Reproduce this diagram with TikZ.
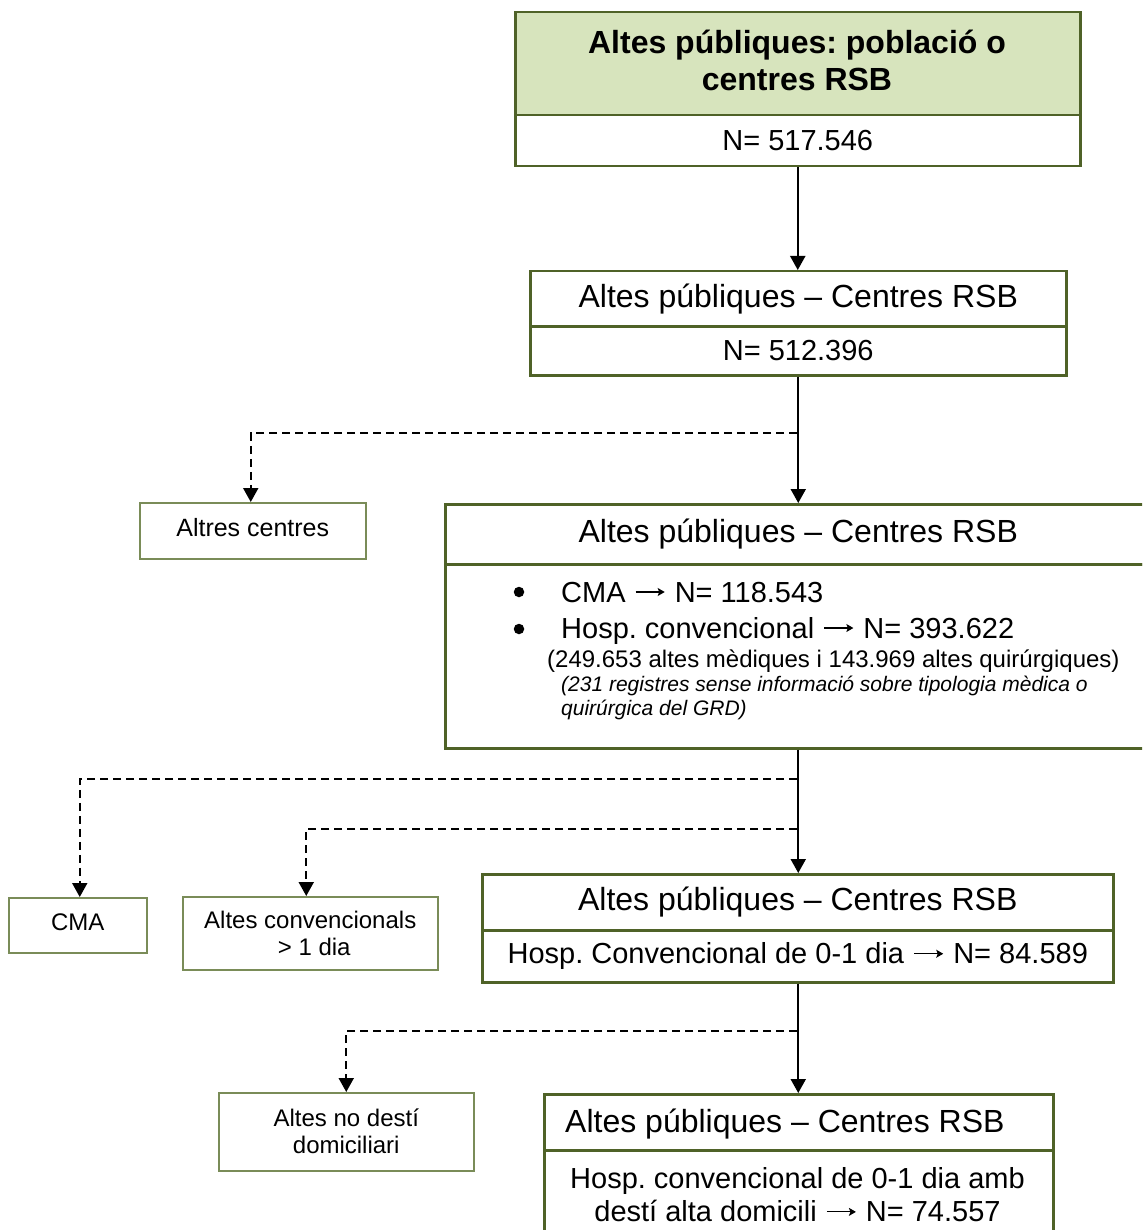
\documentclass[tikz,border=0pt]{standalone}
\usepackage{fontspec}
\setmainfont{Liberation Sans}
\usetikzlibrary{arrows.meta}
\definecolor{oliveb}{HTML}{4F6228}
\definecolor{olives}{HTML}{7A8C58}
\definecolor{lgreen}{HTML}{D7E4BD}
\newcommand{\fsz}[2]{\fontsize{#1}{#2}\selectfont}
\newcommand{\arrw}{\tikz[baseline=0pt]{\path (0pt,0pt) (33pt,0pt); \draw[line width=1.2pt,-{Stealth[length=7pt,width=8pt,inset=1.5pt]}] (2pt,10pt) -- (31pt,10pt);}}
\frenchspacing
\begin{document}
\begin{tikzpicture}[x=1pt,y=-1pt,
  bigbox/.style={draw=oliveb, line width=2.5pt, inner sep=0pt, anchor=north west, align=center},
  smallbox/.style={draw=olives, line width=1.5pt, inner sep=0pt, anchor=north west, align=center, font=\fsz{24}{27}},
  arr/.style={line width=2pt, -{Triangle[length=14pt,width=15pt]}},
  dsh/.style={arr, dash pattern=on 8pt off 5pt},
  txt/.style={inner sep=0pt, anchor=base west},
  bul/.style={circle, fill=black, inner sep=0pt, minimum size=10.5pt}]
\useasboundingbox (0,0) rectangle (1142,1230);
\clip (0,0) rectangle (1142,1230);

% Box 1
\node[bigbox, fill=lgreen, minimum width=565pt, minimum height=103pt] (b1t) at (514,11) {};
\node[inner sep=0pt, align=center, font=\bfseries\fsz{32}{37}] (b1tl) at (797,60) {Altes públiques: població o\\centres RSB};
\node[bigbox, minimum width=565pt, minimum height=51pt, font=\fsz{29}{33}] (b1b) at (514,114) {\raisebox{-2pt}{N= 517.546}};

% Box 2
\node[bigbox, minimum width=536pt, minimum height=55pt, font=\fsz{32}{37}] (b2t) at (529,270) {\raisebox{-2pt}{Altes públiques – Centres RSB}};
\node[bigbox, minimum width=536pt, minimum height=49pt, font=\fsz{29}{33}] (b2b) at (529,325) {\raisebox{-2pt}{N= 512.396}};

% Box 3
\node[bigbox, minimum width=706pt, minimum height=60pt, font=\fsz{32}{37}] (b3t) at (444,503) {Altes públiques – Centres RSB};
\node[bigbox, minimum width=706pt, minimum height=184pt] (b3b) at (444,563) {};
\node[bul] (bul1) at (519,592) {};
\node[bul] (bul2) at (519,629) {};
\node[txt, font=\fsz{29}{33}] (it1) at (561,602) {CMA \arrw{} N= 118.543};
\node[txt, font=\fsz{29}{33}] (it2) at (561,638) {Hosp. convencional \arrw{} N= 393.622};
\node[txt, font=\fsz{24}{28}] (it3) at (547,667) {(249.653 altes mèdiques i 143.969 altes quirúrgiques)};
\node[txt, font=\itshape\fsz{21}{24}] (it4) at (561,691) {(231 registres sense informació sobre tipologia mèdica o};
\node[txt, font=\itshape\fsz{21}{24}] (it5) at (561,715) {quirúrgica del GRD)};

% Box 4
\node[bigbox, minimum width=631pt, minimum height=56pt, font=\fsz{32}{37}] (b4t) at (481,873) {\raisebox{-2pt}{Altes públiques – Centres RSB}};
\node[bigbox, minimum width=631pt, minimum height=52pt, font=\fsz{29}{33}] (b4b) at (481,929) {\raisebox{-2pt}{Hosp. Convencional de 0-1 dia \arrw{} N= 84.589}};

% Box 5
\node[bigbox, minimum width=509pt, minimum height=56pt] (b5t) at (543,1093) {};
\node[txt, anchor=west, font=\fsz{32}{37}] (b5tl) at (565,1124) {Altes públiques – Centres RSB};
\node[bigbox, minimum width=509pt, minimum height=100pt] (b5b) at (543,1149) {};
\node[inner sep=0pt, align=center, font=\fsz{29}{33}] (b5bl) at (797.5,1195) {Hosp. convencional de 0-1 dia amb\\destí alta domicili \arrw{} N= 74.557};

% Side boxes
\node[smallbox, minimum width=226pt, minimum height=56pt, font=\fsz{25}{28}] (altres) at (139,502) {Altres centres\strut};
\node[smallbox, minimum width=138pt, minimum height=55pt] (cma) at (8,897) {CMA\strut};
\node[smallbox, minimum width=255pt, minimum height=73pt] (conv) at (182,896) {Altes convencionals\\\,\,> 1 dia};
\node[smallbox, minimum width=255pt, minimum height=78pt] (nodest) at (218,1092) {Altes no destí\\domiciliari};

% Connectors
\draw[arr] (b1b.south) -- (b1b.south |- b2t.north);
\draw[arr] (b2b.south) -- (b2b.south |- b3t.north);
\draw[arr] (b3b.south -| b2b.south) -- (b2b.south |- b4t.north);
\draw[arr] (b4b.south -| b2b.south) -- (b2b.south |- b5t.north);

\coordinate (j1) at (797,433);
\coordinate (j2) at (797,779);
\coordinate (j3) at (797,829);
\coordinate (j4) at (797,1031);
\draw[dsh] (j1) -| ([xshift=-2pt]altres.north);
\draw[dsh] (j2) -| ([xshift=2pt]cma.north);
\draw[dsh] (j3) -| ([xshift=-4pt]conv.north);
\draw[dsh] (j4) -| (nodest.north);
\end{tikzpicture}
\end{document}
